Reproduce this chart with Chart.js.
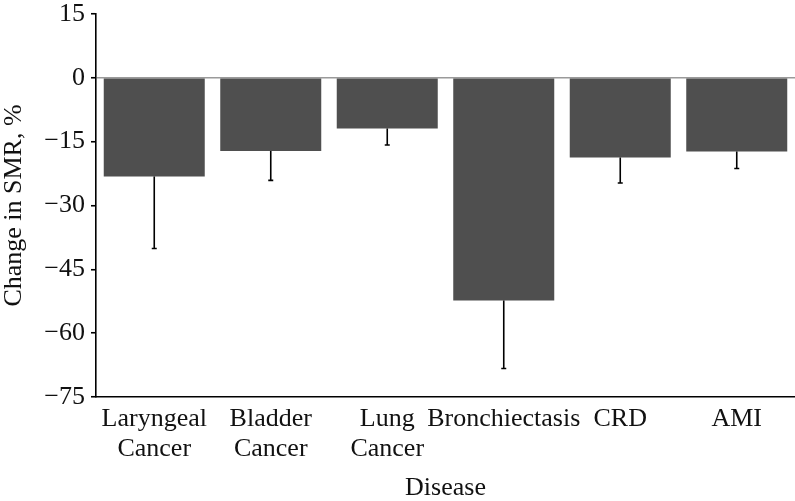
<!DOCTYPE html>
<html>
<head>
<meta charset="utf-8">
<script src="https://cdn.jsdelivr.net/npm/chart.js@4/dist/chart.umd.min.js"></script>
<style>
  html, body { margin: 0; padding: 0; background: #ffffff; }
  #wrap { width: 795px; height: 501px; }
</style>
</head>
<body>
<div id="wrap"><canvas id="c" width="795" height="501"></canvas></div>
<script>
// ---- data ----
const categories = [["Laryngeal", "Cancer"], ["Bladder", "Cancer"], ["Lung", "Cancer"], "Bronchiectasis", "CRD", "AMI"];
const changeSMR = [-23.2, -17.2, -11.9, -52.3, -18.7, -17.3];
const errorLow = [-40.1, -24.1, -15.8, -68.3, -24.7, -21.3];
const yTicks = [15, 0, -15, -30, -45, -60, -75];
const yTitle = "Change in SMR, %";
const xTitle = "Disease";

const FONT = "'Liberation Serif', 'Times New Roman', serif";

const errorBarPlugin = {
  id: 'errorBars',
  afterDatasetsDraw(chart) {
    const meta = chart.getDatasetMeta(0);
    const y = chart.scales.y;
    const ctx = chart.ctx;
    ctx.save();
    ctx.strokeStyle = '#000000';
    ctx.lineWidth = 1.6;
    meta.data.forEach((bar, i) => {
      const x = bar.x;
      const y1 = y.getPixelForValue(changeSMR[i]);
      const y2 = y.getPixelForValue(errorLow[i]);
      ctx.beginPath();
      ctx.moveTo(x, y1);
      ctx.lineTo(x, y2);
      ctx.moveTo(x - 2.5, y2);
      ctx.lineTo(x + 2.5, y2);
      ctx.stroke();
    });
    ctx.restore();
  }
};

new Chart(document.getElementById('c'), {
  type: 'bar',
  data: {
    labels: categories,
    datasets: [{
      data: changeSMR,
      backgroundColor: '#4f4f4f',
      borderWidth: 0,
      barPercentage: 0.867,
      categoryPercentage: 1.0
    }]
  },
  options: {
    responsive: false,
    devicePixelRatio: 1,
    animation: false,
    layout: { padding: { left: 0, right: 0, top: 14, bottom: 0 } },
    plugins: { legend: { display: false }, tooltip: { enabled: false } },
    scales: {
      x: {
        grid: { display: false, drawTicks: false },
        border: { display: true, color: '#000000', width: 1.6 },
        ticks: {
          color: '#111111',
          font: { family: FONT, size: 26, lineHeight: 1.15 },
          padding: 7,
          maxRotation: 0,
          autoSkip: false
        },
        title: {
          display: true,
          text: xTitle,
          color: '#111111',
          font: { family: FONT, size: 26, lineHeight: 1.0 },
          padding: { top: 0, bottom: 0 }
        },
        afterFit(scale) { scale.height = 104; scale.paddingLeft = 0; scale.paddingRight = 0; }
      },
      y: {
        min: -75,
        max: 15,
        afterBuildTicks(scale) { scale.ticks = yTicks.map(v => ({ value: v })); },
        grid: {
          drawOnChartArea: true,
          drawTicks: true,
          tickLength: 5,
          tickColor: '#000000',
          tickWidth: 1.6,
          color: ctx => (ctx.tick && ctx.tick.value === 0) ? '#9a9a9a' : 'rgba(0,0,0,0)',
          lineWidth: 1.5
        },
        border: { display: true, color: '#000000', width: 1.6 },
        ticks: {
          color: '#111111',
          font: { family: FONT, size: 26 },
          padding: 6,
          callback: v => String(v).replace('-', '\u2212')
        },
        title: {
          display: true,
          text: yTitle,
          color: '#111111',
          font: { family: FONT, size: 26, lineHeight: 1.1 },
          padding: { top: 0, bottom: 0 }
        },
        afterFit(scale) { scale.width = 96; scale.paddingTop = 0; scale.paddingBottom = 0; }
      }
    }
  },
  plugins: [errorBarPlugin]
});
</script>
</body>
</html>
